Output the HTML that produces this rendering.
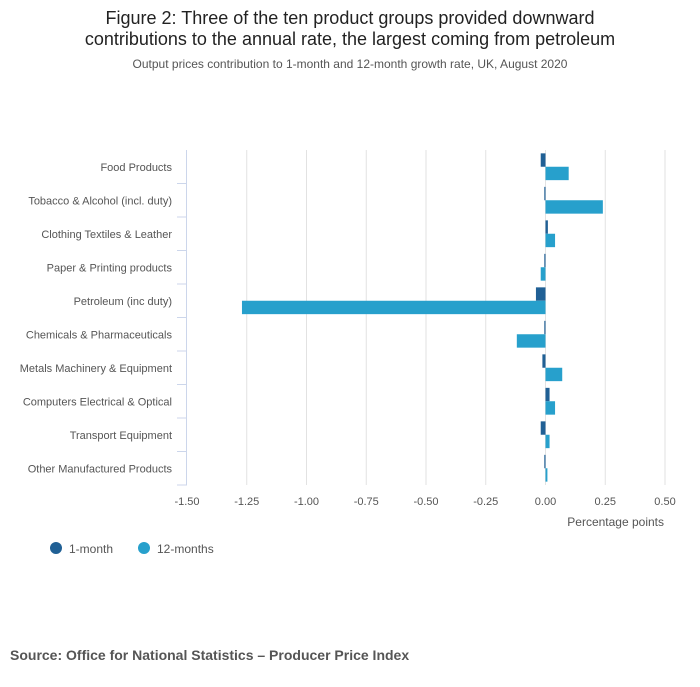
<!DOCTYPE html>
<html><head><meta charset="utf-8">
<style>
body{margin:0;background:#fff;font-family:"Liberation Sans",sans-serif;}
</style></head>
<body>
<svg width="700" height="682" xmlns="http://www.w3.org/2000/svg" font-family="Liberation Sans, sans-serif">
<text x="350" y="24" text-anchor="middle" font-size="18" fill="#222">Figure 2: Three of the ten product groups provided downward</text>
<text x="350" y="45" text-anchor="middle" font-size="18" fill="#222">contributions to the annual rate, the largest coming from petroleum</text>
<text x="350" y="68" text-anchor="middle" font-size="12" fill="#555">Output prices contribution to 1-month and 12-month growth rate, UK, August 2020</text>
<g id="grid"></g>
<g id="bars"></g>
<g id="axes"></g>
<text x="664" y="526" text-anchor="end" font-size="12" fill="#555">Percentage points</text>
<circle cx="56" cy="548" r="6" fill="#206095"/>
<text x="69" y="553" font-size="12" fill="#555">1-month</text>
<circle cx="144" cy="548" r="6" fill="#27a0cc"/>
<text x="157" y="553" font-size="12" fill="#555">12-months</text>
<text x="10" y="660" font-size="14" font-weight="bold" fill="#555">Source: Office for National Statistics – Producer Price Index</text>
</svg>
<script>
const categories=["Food Products","Tobacco & Alcohol (incl. duty)","Clothing Textiles & Leather","Paper & Printing products","Petroleum (inc duty)","Chemicals & Pharmaceuticals","Metals Machinery & Equipment","Computers Electrical & Optical","Transport Equipment","Other Manufactured Products"];
const oneMonth=[-0.02,-0.005,0.01,-0.005,-0.04,-0.005,-0.013,0.017,-0.02,-0.005];
const twelveMonths=[0.097,0.24,0.04,-0.02,-1.27,-0.12,0.07,0.04,0.017,0.008];
const ticks=[-1.5,-1.25,-1,-0.75,-0.5,-0.25,0,0.25,0.5];
const tickLabels=["-1.50","-1.25","-1.00","-0.75","-0.50","-0.25","0.00","0.25","0.50"];
const NS="http://www.w3.org/2000/svg";
const x0=187,x1=665,dmin=-1.5,dmax=0.5,yTop=150,yBottom=485;
const xs=v=>x0+(v-dmin)/(dmax-dmin)*(x1-x0);
const band=(yBottom-yTop)/categories.length;
const yb=i=>yTop+i*band;
function mk(tag,attrs,parent){const e=document.createElementNS(NS,tag);for(const k in attrs)e.setAttribute(k,attrs[k]);parent.appendChild(e);return e;}
const grid=document.getElementById('grid'),bars=document.getElementById('bars'),axes=document.getElementById('axes');
ticks.forEach((t,i)=>{
  if(i>0){const g=mk('line',{x1:xs(t),x2:xs(t),y1:yTop,y2:yBottom,stroke:'#e2e2e2','stroke-width':1},grid);
  
  }
  const l=mk('text',{x:xs(t),y:yBottom+20,'text-anchor':'middle','font-size':11,fill:'#555'},axes);
  l.textContent=tickLabels[i];
  
  
});
const ax=mk('line',{x1:x0-0.5,x2:x0-0.5,y1:yTop,y2:yBottom,stroke:'#ccd6eb','stroke-width':1},axes);


const bh=band*0.4;
categories.forEach((c,i)=>{
  const y=yb(i);
  const tk=mk('line',{x1:x0-10,x2:x0,y1:y+band,y2:y+band,stroke:'#ccd6eb'},axes);
  
  
  const lb=mk('text',{x:172,y:y+band/2+4,'text-anchor':'end','font-size':11,fill:'#555'},axes);
  lb.textContent=c;
  
  
  const c0=y+band/2;
  const v1=oneMonth[i],v2=twelveMonths[i];
  const b1=mk('rect',{x:Math.min(xs(0),xs(v1)),y:c0-bh,width:Math.max(1,Math.abs(xs(v1)-xs(0))),height:bh,fill:'#206095'},bars);
  
  
  const b2=mk('rect',{x:Math.min(xs(0),xs(v2)),y:c0,width:Math.max(1,Math.abs(xs(v2)-xs(0))),height:bh,fill:'#27a0cc'},bars);
  
  
});
</script>
</body></html>
